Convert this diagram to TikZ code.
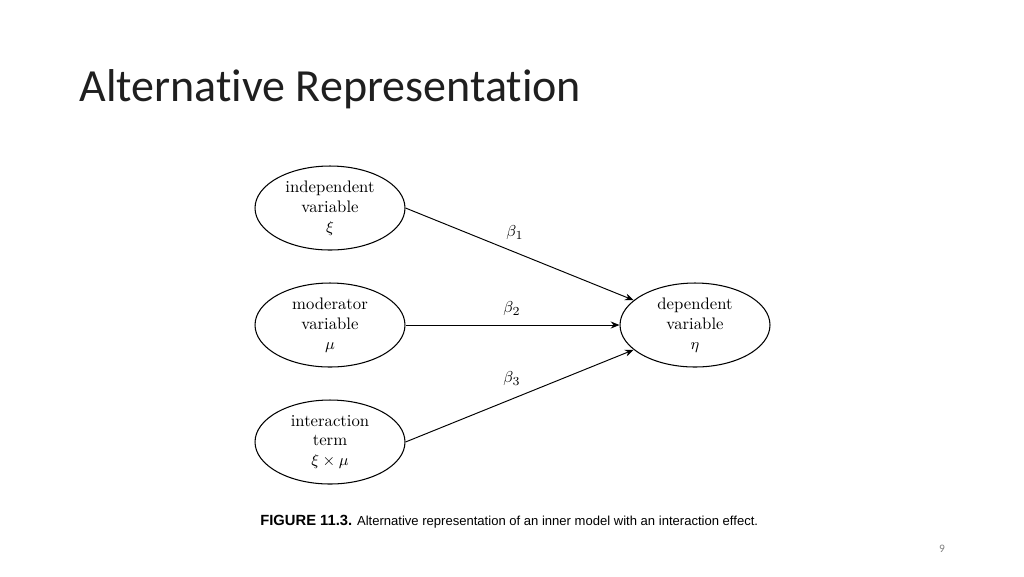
\documentclass[tikz,border=0pt]{standalone}
\usepackage{fontspec}
\newfontfamily\titlefont[Ligatures={NoCommon}]{Carlito}
\newfontfamily\capfont{Liberation Sans}
\usetikzlibrary{shapes.geometric,arrows.meta}
\begin{document}
\begin{tikzpicture}[x=0.02cm,y=-0.02cm,
  var/.style={draw,ellipse,line width=0.6pt,minimum width=3cm,minimum height=1.68cm,inner sep=0pt,align=center,font=\fontsize{9.5}{11.3}\selectfont},
  arr/.style={line width=0.55pt,-{Stealth[length=5pt,width=4pt]}},
  lab/.style={font=\fontsize{9.5}{11}\selectfont}]
\useasboundingbox (0,0) rectangle (1024,576);
\node[anchor=base west,inner sep=0pt,font=\titlefont\fontsize{26.2}{30}\selectfont,text=black!88] (title) at (79,101) {Alternative Representation};
\node[var] (ind) at (330,208) {independent\\variable\\$\xi$};
\node[var] (mod) at (330,325) {moderator\\variable\\$\mu$};
\node[var] (int) at (330,442) {interaction\\term\\$\xi\times\mu$};
\node[var] (dep) at (695,325) {dependent\\variable\\$\eta$};
\draw[arr] (ind.east) -- (dep);
\draw[arr] (mod.east) -- (dep.west);
\draw[arr] (int.east) -- (dep);
\node[lab] (b1) at (515,233) {$\beta_1$};
\node[lab] (b2) at (512,309) {$\beta_2$};
\node[lab] (b3) at (512,379) {$\beta_3$};
\node[anchor=base west,inner sep=0pt,font=\capfont\fontsize{7.43}{9}\selectfont] (cap) at (260,525) {\textbf{\fontsize{8.4}{9}\selectfont FIGURE 11.3.} Alternative representation of an inner model with an interaction effect.};
\node[font=\titlefont\fontsize{6.5}{7}\selectfont,text=black!50] (pg) at (942,549) {9};
\end{tikzpicture}
\end{document}
